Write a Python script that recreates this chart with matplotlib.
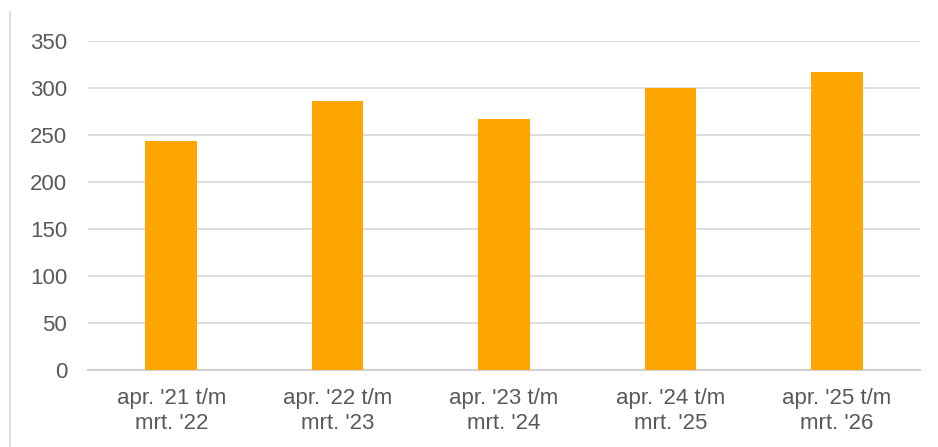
import matplotlib.pyplot as plt
from matplotlib.lines import Line2D

categories = ["apr. '21 t/m\nmrt. '22", "apr. '22 t/m\nmrt. '23", "apr. '23 t/m\nmrt. '24",
              "apr. '24 t/m\nmrt. '25", "apr. '25 t/m\nmrt. '26"]
values = [244, 286, 267, 300, 317]
yticks = [0, 50, 100, 150, 200, 250, 300, 350]

plt.rcParams['font.family'] = ['Liberation Sans', 'DejaVu Sans']

fig = plt.figure(figsize=(9.38, 4.47), dpi=100)
ax = fig.add_axes([88/938, 77/447, 832/938, 329/447])

x = range(len(categories))
ax.bar(x, values, width=0.31, color='#FFA500', zorder=3)

ax.set_xlim(-0.5, len(categories) - 0.5)
ax.set_ylim(0, 350)
ax.set_yticks(yticks)
ax.set_xticks(list(x))
ax.set_xticklabels(categories, linespacing=1.25)
ax.grid(axis='y', color='#D9D9D9', linewidth=1.3, zorder=0)
for s in ['top', 'right', 'left']:
    ax.spines[s].set_visible(False)
ax.spines['bottom'].set_color('#D0D0D0')
ax.spines['bottom'].set_linewidth(1.5)
ax.tick_params(axis='both', length=0, labelsize=16, colors='#595959')
ax.tick_params(axis='x', pad=13)
ax.tick_params(axis='y', pad=15)

# left border line of the surrounding box
fig.add_artist(Line2D([10/938, 10/938], [0, 1 - 12/447], color='#D9D9D9', linewidth=1.2))

fig.savefig('out.png', dpi=100)
